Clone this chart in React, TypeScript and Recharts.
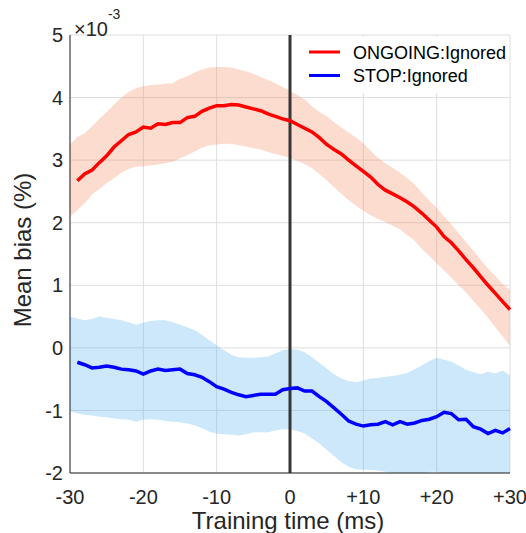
import React from "react";
import {
  ComposedChart,
  Area,
  Line,
  XAxis,
  YAxis,
  CartesianGrid,
  ReferenceLine,
} from "recharts";

// training time, ms
const TIMES = [
  -30, -29, -28, -27, -26, -25, -24, -23, -22, -21, -20, -19, -18, -17, -16, -15,
  -14, -13, -12, -11, -10, -9, -8, -7, -6, -5, -4, -3, -2, -1, 0, 1, 2, 3, 4, 5,
  6, 7, 8, 9, 10, 11, 12, 13, 14, 15, 16, 17, 18, 19, 20, 21, 22, 23, 24, 25, 26,
  27, 28, 29, 30,
];

// mean bias, x 10^-3
const ONGOING_MEAN = [
  null, 2.67, 2.78, 2.84, 2.96, 3.07, 3.21, 3.31, 3.41, 3.45, 3.53, 3.51, 3.58, 3.57,
  3.6, 3.6, 3.68, 3.7, 3.78, 3.83, 3.87, 3.87, 3.89, 3.88, 3.85, 3.82, 3.79, 3.74,
  3.7, 3.66, 3.63, 3.57, 3.51, 3.45, 3.36, 3.25, 3.17, 3.1, 3.0, 2.91, 2.82, 2.73,
  2.61, 2.52, 2.46, 2.4, 2.33, 2.25, 2.15, 2.04, 1.93, 1.78, 1.68, 1.55, 1.41, 1.28,
  1.14, 1.0, 0.87, 0.74, 0.61,
];
const ONGOING_UPPER = [
  3.25, 3.37, 3.43, 3.54, 3.66, 3.77, 3.89, 4.0, 4.09, 4.15, 4.18, 4.2, 4.21, 4.22,
  4.23, 4.3, 4.34, 4.4, 4.45, 4.48, 4.49, 4.49, 4.48, 4.45, 4.42, 4.38, 4.33, 4.28,
  4.23, 4.17, 4.11, 4.04, 3.97, 3.86, 3.77, 3.7, 3.61, 3.52, 3.44, 3.36, 3.27, 3.15,
  3.04, 2.95, 2.88, 2.8, 2.71, 2.61, 2.48, 2.35, 2.24, 2.1, 1.97, 1.83, 1.69, 1.55,
  1.41, 1.27, 1.15, 1.02, 0.93,
];
const ONGOING_LOWER = [
  2.1, 2.2, 2.31, 2.45, 2.54, 2.63, 2.71, 2.8, 2.86, 2.9, 2.9, 2.92, 2.93, 2.95,
  2.97, 3.03, 3.08, 3.14, 3.2, 3.24, 3.25, 3.26, 3.26, 3.24, 3.22, 3.19, 3.17, 3.13,
  3.1, 3.07, 3.03, 2.99, 2.94, 2.87, 2.78, 2.68, 2.57, 2.46, 2.36, 2.27, 2.19, 2.12,
  2.06, 2.01, 1.95, 1.89, 1.8, 1.71, 1.58, 1.47, 1.35, 1.24, 1.12, 1.0, 0.89, 0.75,
  0.62, 0.48, 0.33, 0.18, 0.03,
];

const STOP_MEAN = [
  null, -0.23, -0.27, -0.32, -0.31, -0.29, -0.31, -0.34, -0.35, -0.37, -0.42, -0.37,
  -0.34, -0.36, -0.35, -0.34, -0.41, -0.43, -0.47, -0.54, -0.62, -0.66, -0.71, -0.75,
  -0.78, -0.76, -0.74, -0.74, -0.74, -0.67, -0.65, -0.64, -0.69, -0.69, -0.78, -0.86,
  -0.96, -1.06, -1.17, -1.22, -1.25, -1.23, -1.22, -1.18, -1.23, -1.18, -1.22, -1.2,
  -1.16, -1.14, -1.1, -1.03, -1.05, -1.15, -1.14, -1.26, -1.3, -1.37, -1.32, -1.36,
  -1.29,
];
const STOP_UPPER = [
  0.5, 0.47, 0.44, 0.46, 0.5, 0.48, 0.46, 0.44, 0.41, 0.37, 0.4, 0.43, 0.44, 0.44,
  0.41, 0.37, 0.33, 0.28, 0.21, 0.12, 0.04, -0.04, -0.11, -0.15, -0.16, -0.16, -0.15,
  -0.14, -0.09, -0.04, -0.02, -0.03, -0.07, -0.15, -0.24, -0.33, -0.42, -0.49, -0.53,
  -0.55, -0.52, -0.49, -0.48, -0.46, -0.45, -0.43, -0.4, -0.34, -0.28, -0.21, -0.16,
  -0.19, -0.22, -0.28, -0.35, -0.39, -0.42, -0.38, -0.41, -0.36, -0.44,
];
const STOP_LOWER = [
  -1.01, -1.05, -1.07, -1.08, -1.1, -1.11, -1.13, -1.14, -1.15, -1.18, -1.15, -1.14,
  -1.15, -1.17, -1.18, -1.19, -1.21, -1.24, -1.28, -1.34, -1.37, -1.38, -1.39, -1.4,
  -1.38, -1.35, -1.35, -1.35, -1.32, -1.3, -1.3, -1.33, -1.37, -1.45, -1.53, -1.63,
  -1.73, -1.83, -1.9, -1.94, -1.95, -1.95, -1.96, -1.98, -2.0, -2.03, -2.05, -2.05,
  -2.02, -1.98, -1.98, -2.02, -2.05, -2.08, -2.1, -2.1, -2.1, -2.1, -2.1, -2.1, -2.1,
];

const X_TICKS = [-30, -20, -10, 0, 10, 20, 30];
const Y_TICKS = [-2, -1, 0, 1, 2, 3, 4, 5];

const rows = TIMES.map((t, i) => ({
  t,
  ongoing: ONGOING_MEAN[i],
  ongoingBand: [ONGOING_LOWER[i], ONGOING_UPPER[i]],
  stop: STOP_MEAN[i],
  stopBand: [STOP_LOWER[i], STOP_UPPER[i]],
}));

const FONT = "'Liberation Sans', Arial, Helvetica, sans-serif";
const tickStyle = { fontSize: 20, fill: "#262626", fontFamily: FONT };

const fmtX = (v: number) => (v > 0 ? `+${v}` : String(v));

export default function App() {
  return (
    <div style={{ position: "absolute", left: 0, top: 0, width: 526, height: 533, background: "#fff" }}>
      <ComposedChart
        width={526}
        height={533}
        data={rows}
        margin={{ top: 35, right: 16, bottom: 0, left: 0 }}
      >
        <XAxis
          dataKey="t"
          type="number"
          domain={[-30, 30]}
          ticks={X_TICKS}
          tickFormatter={fmtX}
          tick={tickStyle}
          tickLine={false}
          tickSize={15}
          tickMargin={2}
          height={60}
          axisLine={{ stroke: "#262626" }}
        />
        <YAxis
          type="number"
          domain={[-2, 5]}
          ticks={Y_TICKS}
          allowDataOverflow
          tick={tickStyle}
          tickLine={false}
          tickSize={5}
          tickMargin={2}
          width={70}
          axisLine={{ stroke: "#262626" }}
        />
        <CartesianGrid stroke="#dedede" />
        <Area
          dataKey="ongoingBand"
          stroke="none"
          fill="rgb(245,138,95)"
          fillOpacity={0.3}
          isAnimationActive={false}
        />
        <Area
          dataKey="stopBand"
          stroke="none"
          fill="rgb(85,178,238)"
          fillOpacity={0.3}
          isAnimationActive={false}
        />
        <ReferenceLine x={0} stroke="#363636" strokeWidth={3} />
        <Line
          dataKey="ongoing"
          stroke="#ff0000"
          strokeWidth={3.5}
          dot={false}
          type="linear"
          isAnimationActive={false}
        />
        <Line
          dataKey="stop"
          stroke="#0000ff"
          strokeWidth={3.5}
          dot={false}
          type="linear"
          isAnimationActive={false}
        />
      </ComposedChart>
      <svg
        width={526}
        height={533}
        style={{ position: "absolute", left: 0, top: 0, pointerEvents: "none" }}
        fontFamily={FONT}
      >
        <text x={74} y={36} fontSize={20} fill="#262626">
          ×10
          <tspan dy={-17} fontSize={14}>
            -3
          </tspan>
        </text>
        <rect x={292} y={37} width={217} height={56} fill="#fff" />
        <line x1={309} x2={340} y1={52} y2={52} stroke="#ff0000" strokeWidth={3} />
        <text x={353} y={58.5} fontSize={18} fill="#000">
          ONGOING:Ignored
        </text>
        <line x1={309} x2={340} y1={75.5} y2={75.5} stroke="#0000ff" strokeWidth={3} />
        <text x={353} y={82} fontSize={18} fill="#000">
          STOP:Ignored
        </text>
        <text x={288} y={529} fontSize={24} fill="#262626" textAnchor="middle">
          Training time (ms)
        </text>
        <text
          x={0}
          y={0}
          fontSize={24}
          fill="#262626"
          textAnchor="middle"
          transform="translate(30.5,250) rotate(-90)"
        >
          Mean bias (%)
        </text>
      </svg>
    </div>
  );
}
